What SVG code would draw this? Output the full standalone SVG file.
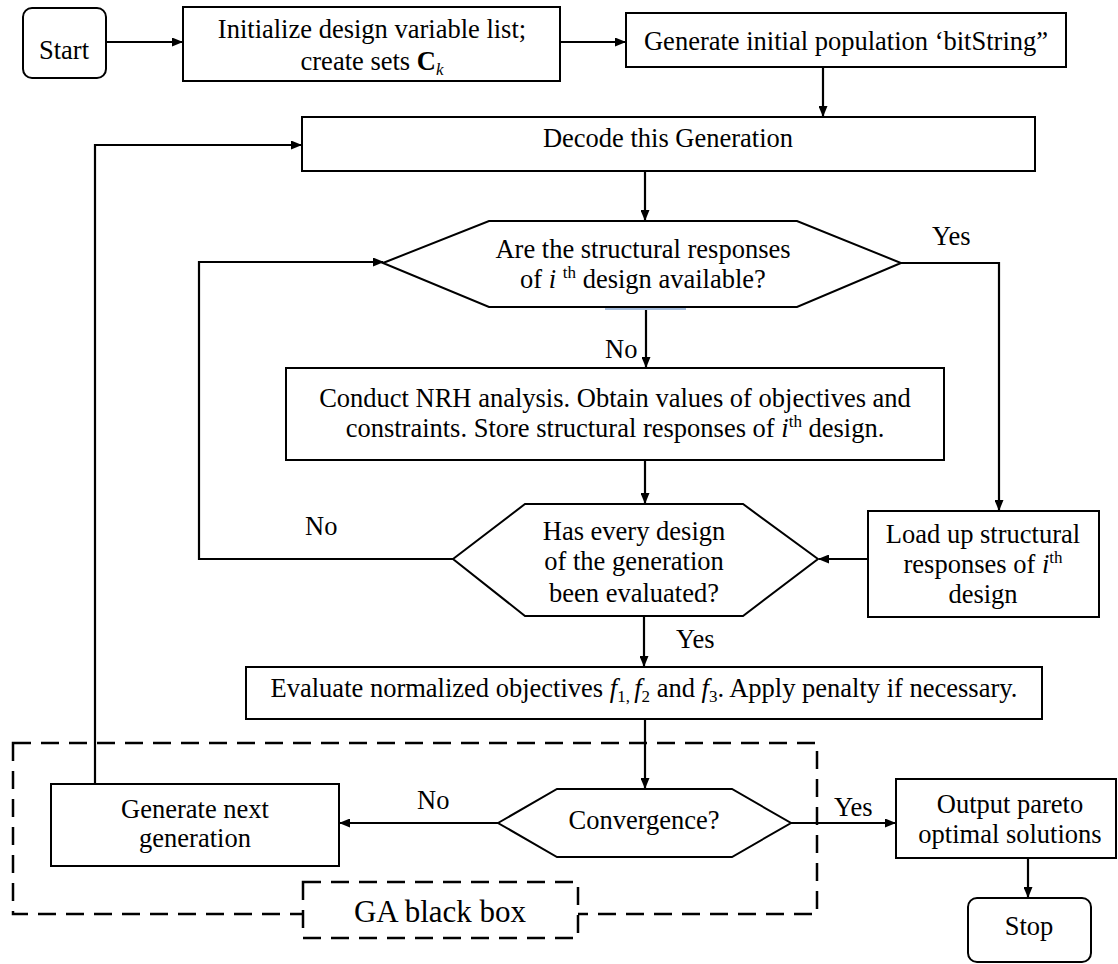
<svg xmlns="http://www.w3.org/2000/svg" width="1118" height="964" viewBox="0 0 1118 964">
<style>
  text { font-family: "Liberation Serif", "Times New Roman", serif; font-size: 26.5px; fill: #000; }
  .c { text-anchor: middle; }
  .box { fill: #fff; stroke: #000; stroke-width: 2; }
  .dash { fill: none; stroke: #000; stroke-width: 2.5; stroke-dasharray: 18 10; }
  .dashw { fill: #fff; stroke: #000; stroke-width: 2.5; stroke-dasharray: 18 10; }
  .conn path { fill: none; stroke: #000; stroke-width: 2.2; }
  .arr { marker-end: url(#ah); }
  .sup { font-size: 17px; }
  .sub { font-size: 17px; }
  .it { font-style: italic; }
</style>
<defs>
  <marker id="ah" markerUnits="userSpaceOnUse" markerWidth="11" markerHeight="9" refX="10" refY="4.5" orient="auto">
    <path d="M0,0 L11,4.5 L0,9 z" fill="#000"/>
  </marker>
</defs>

<!-- GA black box outer dashed frame -->
<g id="ga-frame">
  <rect class="dash" x="13" y="743" width="804" height="171"/>
</g>

<g id="connectors" class="conn">
  <path class="arr" d="M106,42 H182"/>
  <path class="arr" d="M560,42 H625"/>
  <path class="arr" d="M823,67 V116"/>
  <path class="arr" d="M645,171 V220"/>
  <path class="arr" d="M646,307 V367"/>
  <path class="arr" d="M901,263 H999 V510"/>
  <path class="arr" d="M645,460 V503"/>
  <path class="arr" d="M868,559 H819"/>
  <path class="arr" d="M453,559 H199 V262 H383"/>
  <path class="arr" d="M644,616 V666"/>
  <path class="arr" d="M645,719 V788"/>
  <path class="arr" d="M498,823 H340"/>
  <path class="arr" d="M95,784 V145 H301"/>
  <path class="arr" d="M791,823 H895"/>
  <path class="arr" d="M1028,858 V897"/>
</g>

<line x1="605" y1="309" x2="686" y2="309" stroke="#a4bcdc" stroke-width="2"/>

<g id="start">
  <rect class="box" x="23" y="8" width="83" height="70" rx="9"/>
  <text class="c" x="64" y="59">Start</text>
</g>

<g id="init">
  <rect class="box" x="183" y="7" width="377" height="74"/>
  <text class="c" x="372" y="38">Initialize design variable list;</text>
  <text class="c" x="372" y="70">create sets <tspan font-weight="bold">C</tspan><tspan class="sub it" dy="5">k</tspan></text>
</g>

<g id="gen-init">
  <rect class="box" x="626" y="13" width="440" height="54"/>
  <text class="c" x="846" y="50">Generate initial population ‘bitString”</text>
</g>

<g id="decode">
  <rect class="box" x="302" y="117" width="733" height="54"/>
  <text class="c" x="668" y="147">Decode this Generation</text>
</g>

<g id="q-available">
  <polygon class="box" points="383,263 489,221 797,221 901,263 797,307 489,307"/>
  <text class="c" x="643" y="258">Are the structural responses</text>
  <text class="c" x="643" y="288">of <tspan class="it">i</tspan> <tspan class="sup" dy="-10">th</tspan><tspan dy="10"> design available?</tspan></text>
</g>

<g id="nrh">
  <rect class="box" x="286" y="368" width="658" height="92"/>
  <text class="c" x="615" y="407">Conduct NRH analysis. Obtain values of objectives and</text>
  <text class="c" x="615" y="437">constraints. Store structural responses of <tspan class="it">i</tspan><tspan class="sup" dy="-10">th</tspan><tspan dy="10"> design.</tspan></text>
</g>

<g id="load">
  <rect class="box" x="868" y="511" width="231" height="106"/>
  <text class="c" x="983" y="543">Load up structural</text>
  <text class="c" x="983" y="573">responses of <tspan class="it">i</tspan><tspan class="sup" dy="-10">th</tspan></text>
  <text class="c" x="983" y="603">design</text>
</g>

<g id="q-every">
  <polygon class="box" points="453,559 525,504 743,504 818,559 743,616 525,616"/>
  <text class="c" x="634" y="540">Has every design</text>
  <text class="c" x="634" y="570">of the generation</text>
  <text class="c" x="634" y="602">been evaluated?</text>
</g>

<g id="evaluate">
  <rect class="box" x="246" y="667" width="796" height="52"/>
  <text class="c" x="644" y="697">Evaluate normalized objectives <tspan class="it">f</tspan><tspan class="sub" dy="5">1, </tspan><tspan class="it" dy="-5">f</tspan><tspan class="sub" dy="5">2</tspan><tspan dy="-5"> and </tspan><tspan class="it">f</tspan><tspan class="sub" dy="5">3</tspan><tspan dy="-5">. Apply penalty if necessary.</tspan></text>
</g>

<g id="convergence">
  <polygon class="box" points="498,823 557,789 732,789 791,823 732,857 557,857"/>
  <text class="c" x="644" y="829">Convergence?</text>
</g>

<g id="gen-next">
  <rect class="box" x="51" y="784" width="288" height="82"/>
  <text class="c" x="195" y="818">Generate next</text>
  <text class="c" x="195" y="847">generation</text>
</g>

<g id="ga-label">
  <rect class="dashw" x="303" y="882" width="275" height="56"/>
  <text class="c" x="440" y="922" style="font-size:31px">GA black box</text>
</g>

<g id="output">
  <rect class="box" x="896" y="779" width="220" height="79"/>
  <text class="c" x="1010" y="813">Output pareto</text>
  <text class="c" x="1010" y="843">optimal solutions</text>
</g>

<g id="stop">
  <rect class="box" x="968" y="898" width="123" height="64" rx="9"/>
  <text class="c" x="1029" y="935">Stop</text>
</g>

<g id="labels">
  <text x="932" y="245">Yes</text>
  <text x="605" y="358">No</text>
  <text x="305" y="535">No</text>
  <text x="676" y="648">Yes</text>
  <text x="417" y="809">No</text>
  <text x="834" y="816">Yes</text>
</g>
</svg>
